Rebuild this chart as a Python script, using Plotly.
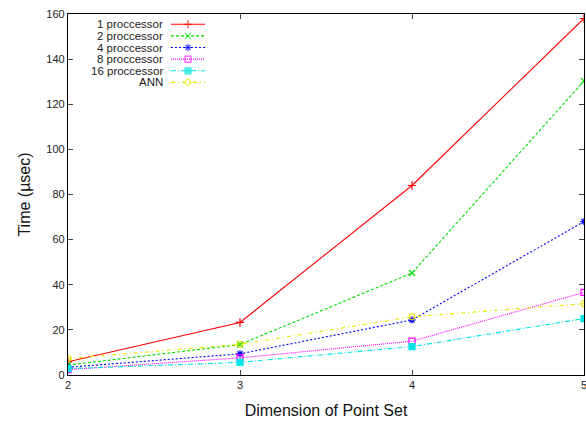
import plotly.graph_objects as go

dims = [2, 3, 4, 5]
series_names = ["1 proccessor", "2 proccessor", "4 proccessor", "8 proccessor", "16 proccessor", "ANN"]
proc1 = [5.9, 23.3, 84.0, 158.0]
proc2 = [4.4, 13.5, 45.2, 130.3]
proc4 = [3.4, 9.4, 24.4, 68.0]
proc8 = [2.4, 7.6, 15.0, 36.6]
proc16 = [2.8, 5.6, 12.6, 25.0]
ann = [7.3, 13.6, 25.8, 31.6]
values = [proc1, proc2, proc4, proc8, proc16, ann]

colors = ["#ff0000", "#00dd00", "#0000ff", "#ff00ff", "#00e5e5", "#e8e800"]
dashes = ["solid", "3px,2px", "2px,2px", "1px,1px", "5px,2px,1px,2px", "4px,3px,1px,3px"]
symbols = ["cross-thin-open", "x-thin-open", "asterisk-open", "square-open", "square", "circle-open"]
msizes = [6, 6, 6, 6, 6, 6]

FONT = "Liberation Sans, Arial, Helvetica, sans-serif"

fig = go.Figure()
for name, vals, c, d, s, ms in zip(series_names, values, colors, dashes, symbols, msizes):
    fig.add_trace(go.Scatter(
        x=dims, y=vals, mode="lines+markers", name=name, showlegend=False,
        line=dict(color=c, width=1.1, dash=d),
        marker=dict(symbol=s, size=ms, color=c, line=dict(color=c, width=1.2)),
    ))

# gnuplot-style key: right-aligned text with line sample after it
row_top = 0.9715
row_step = 0.0322
sx0, sx1 = 0.1996, 0.2655
text_right = 0.188
for i, (name, c, d, s, ms) in enumerate(zip(series_names, colors, dashes, symbols, msizes)):
    yy = row_top - i * row_step
    fig.add_trace(go.Scatter(
        x=[sx0, (sx0 + sx1) / 2, sx1], y=[yy, yy, yy], xaxis="x2", yaxis="y2",
        mode="lines+markers", showlegend=False, hoverinfo="skip",
        line=dict(color=c, width=1.1, dash=d),
        marker=dict(symbol=s, size=[0, ms, 0], color=c, line=dict(color=c, width=1.2)),
    ))
    fig.add_annotation(
        x=text_right, y=yy, xref="x2", yref="y2", text=name, showarrow=False,
        xanchor="right", yanchor="middle", font=dict(family=FONT, size=11.5, color="#222"),
    )

fig.update_layout(
    width=586, height=424,
    margin=dict(l=68, r=2, t=14, b=49),
    paper_bgcolor="white", plot_bgcolor="white",
    font=dict(family=FONT, size=11, color="#222"),
    xaxis=dict(
        range=[2, 5], tickvals=dims, ticktext=[str(v) for v in dims],
        ticks="inside", ticklen=5, tickcolor="#444", mirror="allticks", automargin=False,
        ticklabeloverflow="allow",
        showline=True, linecolor="black", linewidth=1.2, showgrid=False, zeroline=False,
        title=dict(text="Dimension of Point Set", font=dict(size=16, color="#111"), standoff=14),
        tickfont=dict(size=11),
    ),
    yaxis=dict(
        range=[0, 160], dtick=20, tick0=0,
        ticks="inside", ticklen=5, tickcolor="#444", mirror="allticks", automargin=False,
        ticklabeloverflow="allow",
        showline=True, linecolor="black", linewidth=1.2, showgrid=False, zeroline=False,
        title=dict(text="Time (µsec)", font=dict(size=16, color="#111"), standoff=11),
        tickfont=dict(size=11),
    ),
    xaxis2=dict(range=[0, 1], overlaying="x", visible=False, fixedrange=True),
    yaxis2=dict(range=[0, 1], overlaying="y", visible=False, fixedrange=True),
    showlegend=False,
)

fig.write_html(
    "out.html",
    config={"displayModeBar": False},
    post_script="document.body.style.margin='0';document.body.style.overflow='hidden';",
)
